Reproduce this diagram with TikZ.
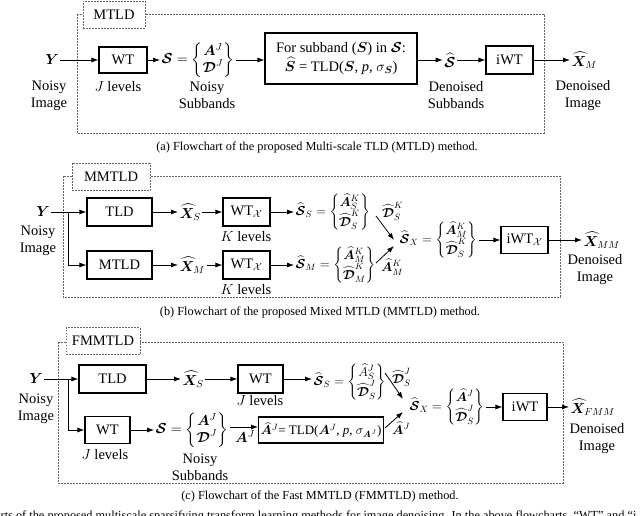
\RequirePackage{fix-cm}
\documentclass[tikz,border=0pt]{standalone}
\usepackage{amsmath}
\usepackage{bm}
\usepackage{fontspec}
\setmainfont{Liberation Serif}
\usetikzlibrary{arrows.meta}
\newcommand{\bY}{\bm{Y}}
\newcommand{\bX}{\bm{X}}
\newcommand{\bA}{\bm{A}}
\newcommand{\bS}{\bm{S}}
\newcommand{\cS}{\bm{\mathcal{S}}}
\newcommand{\cD}{\bm{\mathcal{D}}}
\newcommand{\hS}{\widehat{\cS}}
\newcommand{\pair}[2]{\left\{\renewcommand{\arraystretch}{0.85}\begin{array}{@{}c@{}}#1\\ #2\end{array}\right\}}
\begin{document}
\begin{tikzpicture}[x=1pt,y=-1pt] % three denoising flowcharts
\tikzstyle{every node}+=[inner sep=1.5pt,font=\fontsize{14.5}{17}\selectfont]
\tikzstyle{blk}=[draw,line width=1.1pt,inner sep=0pt]
\tikzstyle{dotbox}=[draw=gray!80!black,line width=0.8pt,dash pattern=on 1.6pt off 1.4pt]
\tikzstyle{labbox}=[dotbox,fill=white,minimum height=27pt,inner sep=0pt]
\tikzstyle{txt}=[align=center]
\tikzstyle{mth}=[font=\fontsize{13}{15}\selectfont]
\tikzstyle{capt}=[font=\fontsize{12.3}{14}\selectfont]
\tikzstyle{arr}=[-{Latex[length=7pt,width=5pt]},line width=0.8pt]
\useasboundingbox (0,0) rectangle (640,516);
% (a) MTLD
\draw[dotbox] (77,14) rectangle (544,133);
\node[labbox,minimum width=62pt] (tagA) at (114,14.5) {MTLD};
\node (Ya) at (52,60) {$\bY$};
\node[txt] (nYa) at (49,95.5) {Noisy\\Image};
\node[blk,minimum width=48pt,minimum height=26pt] (WTa) at (123,60) {WT};
\node (Ja) at (118,87) {$J$ levels};
\draw[arr] (Ya) -- (WTa);
\node[anchor=west] (Sa) at (160,60) {$\cS = \pair{\bA^J}{\cD^J}$};
\node[txt] (nSa) at (207,95.5) {Noisy\\Subbands};
\draw[arr] (WTa) -- (Sa);
\node[blk,minimum width=152pt,minimum height=51pt,align=center] (TLDa) at (341,58.5)
  {For subband ($\bS$) in $\cS$:\\ $\widehat{\bS}$ = TLD($\bS$, \textit{p}, $\sigma_{\bS}$)};
\draw[arr] (Sa) -- (Sa -| TLDa.west);
\node (Sha) at (450,60) {$\hS$};
\node[txt] (nSha) at (456,95.5) {Denoised\\Subbands};
\draw[arr] (TLDa.east |- Sha) -- (Sha);
\node[blk,minimum width=47pt,minimum height=28pt] (iWTa) at (509.5,60) {iWT};
\draw[arr] (Sha) -- (iWTa);
\node[anchor=west] (Xa) at (570,60) {$\widehat{\bX}_M$};
\node[txt] (nXa) at (583,95.5) {Denoised\\Image};
\draw[arr] (iWTa) -- (Xa);
\node[capt] (capA) at (317,147) {(a) Flowchart of the proposed Multi-scale TLD (MTLD) method.};
% (b) MMTLD
\draw[dotbox] (63,176) rectangle (560,297);
\node[labbox,minimum width=78pt] (tagB) at (111,177) {MMTLD};
\node (Yb) at (43,212) {$\bY$};
\node[txt] (nYb) at (38,241) {Noisy\\Image};
\coordinate (sb) at (68,212);
\node[blk,minimum width=65pt,minimum height=28pt] (TLDb) at (119.5,212) {TLD};
\node[blk,minimum width=65pt,minimum height=28pt] (MTLDb) at (119.5,265) {MTLD};
\draw[line width=0.8pt] (Yb) -- (sb);
\draw[arr] (sb) -- (TLDb);
\draw[arr] (sb) |- (MTLDb);
\node[anchor=west] (XSb) at (178,212) {$\widehat{\bX}_S$};
\node[anchor=west] (XMb) at (178,265) {$\widehat{\bX}_M$};
\draw[arr] (TLDb) -- (XSb);
\draw[arr] (MTLDb) -- (XMb);
\node[blk,minimum width=47pt,minimum height=28pt] (WTb) at (246.5,212) {WT$_{\mathcal{X}}$};
\node[blk,minimum width=47pt,minimum height=28pt] (WTbb) at (246.5,265) {WT$_{\mathcal{X}}$};
\node (Kb) at (246,237) {$K$ levels};
\node (Kbb) at (246,290) {$K$ levels};
\draw[arr] (XSb) -- (WTb);
\draw[arr] (XMb) -- (WTbb);
\node[mth,anchor=west] (SSb) at (294,212) {$\hS_S = \pair{\widehat{\bA}^K_S}{\widehat{\cD}^K_S}$};
\node[mth,anchor=west] (SMb) at (294,265) {$\hS_M = \pair{\widehat{\bA}^K_M}{\widehat{\cD}^K_M}$};
\draw[arr] (WTb) -- (SSb);
\draw[arr] (WTbb) -- (SMb);
\coordinate (pb) at (376,216);
\coordinate (qb) at (394,240);
\coordinate (pbb) at (376,263);
\coordinate (qbb) at (394,246);
\draw[arr] (pb) -- (qb);
\draw[arr] (pbb) -- (qbb);
\node[mth,anchor=south west,inner sep=0pt] (Db) at (382,221) {$\widehat{\cD}^K_S$};
\node[mth,anchor=north west,inner sep=0pt] (Ab) at (381,259) {$\widehat{\bA}^K_M$};
\node[mth,anchor=west] (SXb) at (398,240) {$\hS_X = \pair{\widehat{\bA}^K_M}{\widehat{\cD}^K_S}$};
\node[blk,minimum width=47pt,minimum height=27pt] (iWTb) at (524.5,240) {iWT$_{\mathcal{X}}$};
\draw[arr] (SXb) -- (iWTb);
\node[anchor=west] (XMMb) at (582,240) {$\widehat{\bX}_{MM}$};
\node[txt] (nXb) at (595,270) {Denoised\\Image};
\draw[arr] (iWTb) -- (XMMb);
\node[capt] (capB) at (320,312) {(b) Flowchart of the proposed Mixed MTLD (MMTLD) method.};
% (c) FMMTLD
\draw[dotbox] (58,342) rectangle (563,483);
\node[labbox,minimum width=74pt] (tagC) at (103,341) {FMMTLD};
\node (Yc) at (36,379) {$\bY$};
\node[txt] (nYc) at (36,408.5) {Noisy\\Image};
\coordinate (sc) at (68,379);
\node[blk,minimum width=67pt,minimum height=28pt] (TLDc) at (112.5,379) {TLD};
\node[blk,minimum width=45pt,minimum height=27pt] (WTcc) at (107.5,430) {WT};
\node (Jcc) at (105,455) {$J$ levels};
\draw[line width=0.8pt] (Yc) -- (sc);
\draw[arr] (sc) -- (TLDc);
\draw[arr] (sc) |- (WTcc);
\node[anchor=west] (XSc) at (181,379) {$\widehat{\bX}_S$};
\draw[arr] (TLDc) -- (XSc);
\node[blk,minimum width=45pt,minimum height=28pt] (WTc) at (260.5,379) {WT};
\node (Jc) at (260,401) {$J$ levels};
\draw[arr] (XSc) -- (WTc);
\node[mth,anchor=west] (SSc) at (312,382) {$\hS_S = \pair{\widehat{A}^J_S}{\widehat{\cD}^J_S}$};
\draw[arr] (WTc) -- (WTc -| SSc.west);
\node[anchor=west] (Sc) at (154,430) {$\cS = \pair{\bA^J}{\cD^J}$};
\node[txt] (nSc) at (200,467.5) {Noisy\\Subbands};
\draw[arr] (WTcc) -- (Sc);
\node[blk,anchor=west,minimum width=120pt,minimum height=26pt,inner xsep=2pt,font=\fontsize{13}{15}\selectfont] (TLDcc) at (258,430)
  {$\widehat{\bA}^J$= TLD($\bA^J$, \textit{p}, $\sigma_{\bA^J}$)};
\draw[arr] (Sc.east |- 0,427) -- (TLDcc.west |- 0,427);
\node[anchor=north,inner sep=0pt] (Ac) at (245,430) {$\bA^J$};
\coordinate (pc) at (385,373);
\coordinate (qc) at (403,399);
\coordinate (pcc) at (385,428);
\coordinate (qcc) at (403,412);
\draw[arr] (pc) -- (qc);
\draw[arr] (pcc) -- (qcc);
\node[mth,anchor=south west,inner sep=0pt] (Dc) at (392,387) {$\widehat{\cD}^J_S$};
\node[mth,anchor=north west,inner sep=0pt] (Acc) at (392,422) {$\widehat{\bA}^J$};
\node[mth,anchor=west] (SXc) at (408,407) {$\hS_X = \pair{\widehat{\bA}^J}{\widehat{\cD}^J_S}$};
\node[blk,minimum width=44pt,minimum height=27pt] (iWTc) at (525,407) {iWT};
\draw[arr] (SXc) -- (iWTc);
\node[anchor=west] (XFc) at (569,407) {$\widehat{\bX}_{FMM}$};
\node[txt] (nXc) at (597,438.5) {Denoised\\Image};
\draw[arr] (iWTc) -- (XFc);
\node[capt] (capC) at (320,496) {(c) Flowchart of the Fast MMTLD (FMMTLD) method.};
\begin{scope}
\clip (0,0) rectangle (640,516);
\node[capt,anchor=base west] (capAll) at (-1,519.5) {rts of the proposed multiscale sparsifying transform learning methods for image denoising. In the above flowcharts, “WT” and “i};
\end{scope}
\end{tikzpicture}
\end{document}
